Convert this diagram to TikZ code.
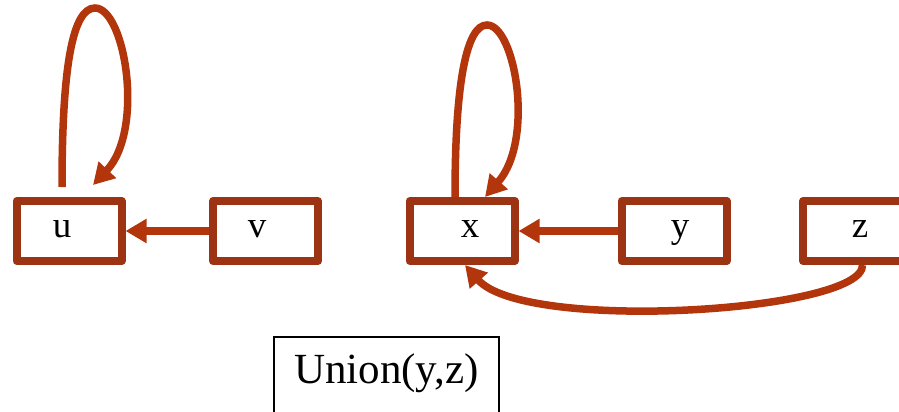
\documentclass[tikz,border=0pt]{standalone}
\usepackage{fontspec}
\setmainfont{Liberation Serif}
\usetikzlibrary{arrows.meta,calc}
\definecolor{boxred}{RGB}{156,51,18}
\definecolor{linkred}{RGB}{178,53,12}
\begin{document}
\begin{tikzpicture}[x=1pt,y=-1pt,
  elem/.style={draw=boxred, fill=white, line width=8pt, line join=round,
    minimum width=105pt, minimum height=60pt, inner sep=0pt},
  lbl/.style={anchor=base, inner sep=0pt, font=\fontsize{37}{40}\selectfont},
  link/.style={draw=linkred, line width=7.5pt, -{Triangle[length=21pt,width=23pt]}},
  opbox/.style={draw=black, line width=1.5pt, minimum width=225pt, inner sep=0pt,
    text height=46pt, text depth=34pt, font=\fontsize{43}{46}\selectfont}]
\useasboundingbox (0,0) rectangle (899,412);

% set elements (anchors sit on the outer edge of the thick border)
\node[elem] (u) at (69,231) {};
\node[elem] (v) at (265.5,231) {};
\node[elem] (x) at (462,231) {};
\node[elem] (y) at (674,231) {};
\node[elem] (z) at (855.5,231) {};

\node[lbl] (ut) at (62,237) {u};
\node[lbl] (vt) at (257,237) {v};
\node[lbl] (xt) at (470,237) {x};
\node[lbl] (yt) at (680,237) {y};
\node[lbl] (zt) at (860,237) {z};

% parent pointers
\draw[link] ($(u.north)+(-7,-10)$) .. controls (62,70) and (72,8) .. (95,8)
  .. controls (125,8) and (145,130) .. ($(u.north)+(24,-12)$);
\draw[link] (v.west) -- (u.east);

\draw[link] ($(x.north)+(-7,0)$) .. controls (455,80) and (467,25) .. (487,25)
  .. controls (515,25) and (535,140) .. ($(x.north)+(23,0)$);
\draw[link] (y.west) -- (x.east);
\draw[link] ($(z.south)+(7,0)$) .. controls (864,312) and (525,333) .. ($(x.south)+(3,0)$);

% operation
\node[opbox, anchor=base] (union) at (386.5,383) {Union(y,z)};
\end{tikzpicture}
\end{document}
